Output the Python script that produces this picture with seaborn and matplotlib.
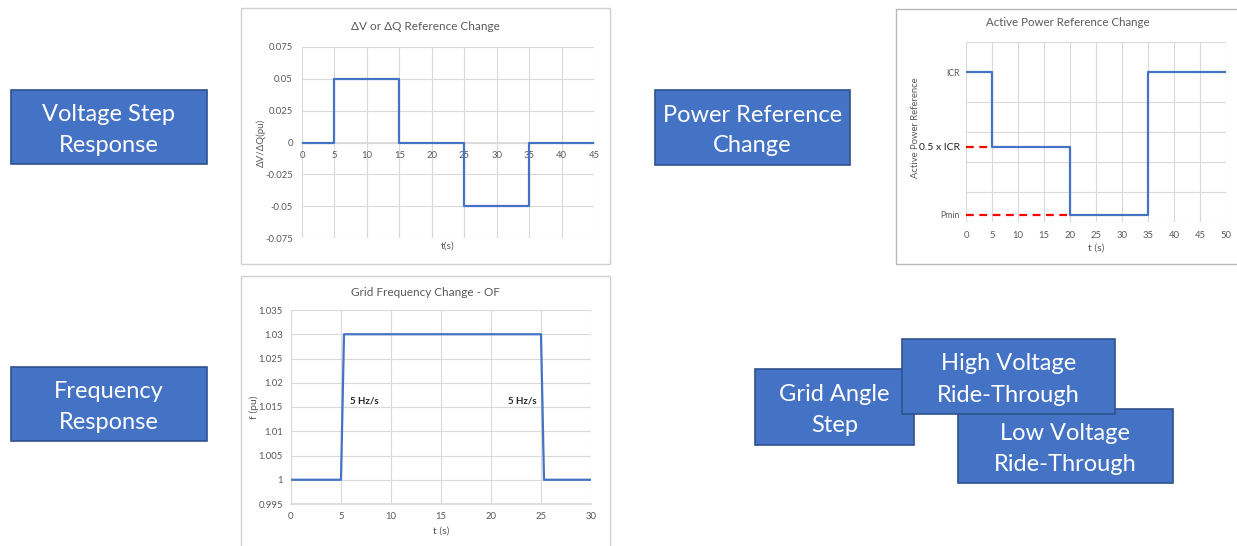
import matplotlib
matplotlib.use("Agg")
import matplotlib.pyplot as plt
from matplotlib.patches import Rectangle
import seaborn as sns
import pandas as pd

# ---------------- data ----------------
# Voltage step (ΔV or ΔQ reference change)
v_time = [0, 5, 15, 25, 35, 45]
v_step = [0, 0.05, 0, -0.05, 0, 0]
v_xticks = [0, 5, 10, 15, 20, 25, 30, 35, 40, 45]
v_yticks = [0.075, 0.05, 0.025, 0, -0.025, -0.05, -0.075]
v_ylabels = ["0.075", "0.05", "0.025", "0", "-0.025", "-0.05", "-0.075"]

# Active power reference change (levels in grid units: ICR = 5, 0.5 x ICR = 2.5, Pmin = 0.25)
p_time = [0, 5, 20, 35, 50]
p_level = [5, 2.5, 0.25, 5, 5]
p_ytick_vals = [0.25, 2.5, 5]
p_ytick_labels = ["Pmin", "0.5 x ICR", "ICR"]
p_ref_levels = [2.5, 0.25]
p_ref_ends = [5, 20]
p_xticks = [0, 5, 10, 15, 20, 25, 30, 35, 40, 45, 50]

# Grid frequency change - OF
f_time = [0, 5, 5.3, 25, 25.3, 30]
f_pu = [1, 1, 1.03, 1.03, 1, 1]
f_xticks = [0, 5, 10, 15, 20, 25, 30]
f_yticks = [0.995, 1, 1.005, 1.01, 1.015, 1.02, 1.025, 1.03, 1.035]
f_ylabels = ["0.995", "1", "1.005", "1.01", "1.015", "1.02", "1.025", "1.03", "1.035"]
f_notes = ["5 Hz/s", "5 Hz/s"]
f_note_x = [7.3, 23.1]
f_note_y = [1.0163, 1.0163]

# Category boxes
box_labels = ["Voltage Step\nResponse", "Frequency\nResponse", "Power Reference\nChange",
              "Grid Angle\nStep", "Low Voltage\nRide-Through", "High Voltage\nRide-Through"]

# ---------------- style ----------------
sns.set_theme(style="white")
plt.rcParams["font.family"] = ["Lato", "DejaVu Sans"]

W, H = 1237, 546
fig = plt.figure(figsize=(W / 100, H / 100), dpi=100)
fig.patch.set_facecolor("white")

LINE = "#4472C4"
GRID = "#d9d9d9"
TXT = "#595959"


def axes_px(x0, y0, x1, y1):
    return fig.add_axes([x0 / W, 1 - y1 / H, (x1 - x0) / W, (y1 - y0) / H])


def frame_px(x0, y0, x1, y1, ec="#d0d0d0"):
    fig.add_artist(Rectangle((x0 / W, 1 - y1 / H), (x1 - x0) / W, (y1 - y0) / H,
                             transform=fig.transFigure, fill=False, edgecolor=ec, lw=1.0))


def clean(ax):
    ax.set_facecolor("white")
    for s in ax.spines.values():
        s.set_visible(False)
    ax.tick_params(length=0, colors=TXT, labelsize=6.8)


# chart frames
frame_px(241, 8, 610, 264)
frame_px(241, 276, 610, 552)
frame_px(896, 9, 1245, 264, ec="#b8b8b8")

# ---------- chart 1: ΔV or ΔQ ----------
ax1 = axes_px(302, 47, 594, 238)
clean(ax1)
df1 = pd.DataFrame({"t": v_time, "v": v_step})
sns.lineplot(data=df1, x="t", y="v", ax=ax1, drawstyle="steps-post", color=LINE, lw=1.6,
             estimator=None, sort=False, zorder=3)
ax1.set_xlim(0, 45)
ax1.set_ylim(-0.075, 0.075)
ax1.set_xticks(v_xticks)
ax1.set_yticks(v_yticks, v_ylabels)
ax1.grid(True, color=GRID, lw=0.8)
ax1.spines["bottom"].set_visible(True)
ax1.spines["bottom"].set_color(GRID)
ax1.spines["bottom"].set_position(("data", 0))
ax1.tick_params(axis="x", pad=6)
ax1.tick_params(axis="y", pad=6.5)
ax1.set_xlabel("t(s)", fontsize=7.5, color=TXT, va="center")
ax1.xaxis.set_label_coords(0.5, (238 - 246) / 191)
ax1.set_ylabel("ΔV/ΔQ(pu)", fontsize=7, color=TXT, va="center")
ax1.yaxis.set_label_coords((261 - 302) / 292, 0.5)
fig.text(425 / W, 1 - 26 / H, "ΔV or ΔQ Reference Change", ha="center", va="center",
         fontsize=8.5, color=TXT)

# ---------- chart 2: Active power ----------
ax2 = axes_px(966, 42, 1226, 222)
clean(ax2)
df2 = pd.DataFrame({"t": p_time, "p": p_level})
sns.lineplot(data=df2, x="t", y="p", ax=ax2, drawstyle="steps-post", color=LINE, lw=1.6,
             estimator=None, sort=False, zorder=3)
ax2.hlines(p_ref_levels, [0] * len(p_ref_levels), p_ref_ends, colors="#ff0000",
           linestyles=(0, (3.5, 2.5)), lw=1.6, zorder=4)
ax2.set_xlim(0, 50)
ax2.set_ylim(0, 6)
ax2.set_xticks(p_xticks)
ax2.set_yticks(p_ytick_vals, p_ytick_labels)
ax2.set_yticks(range(7), minor=True)
ax2.tick_params(which="minor", length=0)
ax2.grid(True, axis="x", color=GRID, lw=0.8)
ax2.grid(True, axis="y", which="minor", color=GRID, lw=0.8)
ax2.grid(False, axis="y", which="major")
ax2.tick_params(axis="x", pad=6.5)
ax2.tick_params(axis="y", pad=4.3, labelsize=6.3)
for lab in ax2.get_yticklabels():
    if lab.get_text() == "0.5 x ICR":
        lab.set_color("#222222")
        lab.set_fontsize(7.5)
ax2.set_xlabel("t (s)", fontsize=7.5, color=TXT, va="center")
ax2.xaxis.set_label_coords(0.5, (222 - 248) / 180)
ax2.set_ylabel("Active Power Reference", fontsize=6.8, color=TXT, va="center")
ax2.yaxis.set_label_coords((915 - 966) / 260, (222 - 128) / 180)
fig.text(1068 / W, 1 - 22 / H, "Active Power Reference Change", ha="center", va="center",
         fontsize=8.3, color=TXT)

# ---------- chart 3: Grid frequency ----------
ax3 = axes_px(291, 310, 591, 504)
clean(ax3)
df3 = pd.DataFrame({"t": f_time, "f": f_pu})
sns.lineplot(data=df3, x="t", y="f", ax=ax3, color=LINE, lw=1.6,
             estimator=None, sort=False, zorder=3)
ax3.set_xlim(0, 30)
ax3.set_ylim(0.995, 1.035)
ax3.set_xticks(f_xticks)
ax3.set_yticks(f_yticks, f_ylabels)
ax3.grid(True, color=GRID, lw=0.8)
ax3.spines["bottom"].set_visible(True)
ax3.spines["bottom"].set_color(GRID)
ax3.tick_params(axis="x", pad=6)
ax3.tick_params(axis="y", pad=5.8)
for s, x, y in zip(f_notes, f_note_x, f_note_y):
    ax3.text(x, y, s, ha="center", va="center", fontsize=7, fontweight="bold", color="#262626")
ax3.set_xlabel("t (s)", fontsize=7.5, color=TXT, va="center")
ax3.xaxis.set_label_coords(0.5, (504 - 531) / 194)
ax3.set_ylabel("f (pu)", fontsize=7.5, color=TXT, va="center")
ax3.yaxis.set_label_coords((254 - 291) / 300, 0.5)
fig.text(425 / W, 1 - 292 / H, "Grid Frequency Change - OF", ha="center", va="center",
         fontsize=8.5, color=TXT)

# ---------- category boxes ----------
box_px = [(11, 90, 207, 164), (11, 367, 207, 441), (655, 90, 850, 165),
          (755, 369, 914, 445), (958, 409, 1173, 483), (902, 339, 1115, 414)]
for i, (label, (x0, y0, x1, y1)) in enumerate(zip(box_labels, box_px)):
    z = 5 + 2 * i
    fig.add_artist(Rectangle((x0 / W, 1 - y1 / H), (x1 - x0) / W, (y1 - y0) / H,
                             transform=fig.transFigure, facecolor="#4472C4",
                             edgecolor="#2F528F", lw=1.2, zorder=z))
    lines = label.split("\n")
    cx = (x0 + x1) / 2
    cy = (y0 + y1) / 2 + 3
    n = len(lines)
    for j, ln in enumerate(lines):
        ly = cy + (j - (n - 1) / 2) * 31
        fig.text(cx / W, 1 - ly / H, ln, ha="center", va="center", fontsize=17,
                 color="white", zorder=z + 1)

fig.savefig("out.png", dpi=100, facecolor="white")
